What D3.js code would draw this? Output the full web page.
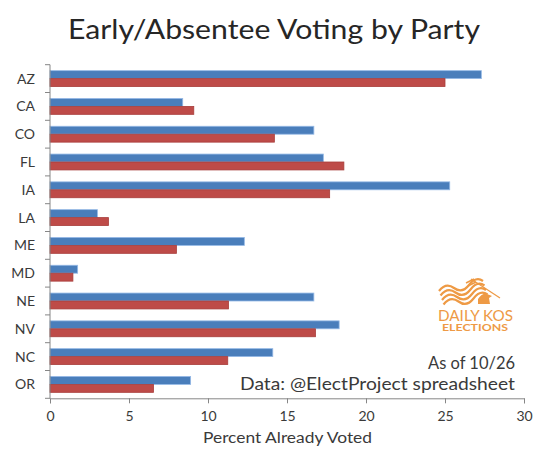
<!DOCTYPE html>
<html><head><meta charset="utf-8">
<script src="https://cdn.jsdelivr.net/npm/d3@7"></script>
<style>body{margin:0;background:#fff}svg{display:block}text{font-family:Lato,"Open Sans",sans-serif}</style>
</head><body>
<script>
const states = ["AZ","CA","CO","FL","IA","LA","ME","MD","NE","NV","NC","OR"];
const demValues = [27.3,8.4,16.7,17.3,25.3,3.0,12.3,1.75,16.7,18.3,14.1,8.9];
const repValues = [25.0,9.1,14.2,18.6,17.7,3.7,8.0,1.45,11.3,16.8,11.25,6.55];
const series = ["dem","rep"];
const xTicks = [0,5,10,15,20,25,30];
const title = "Early/Absentee Voting by Party";
const xTitle = "Percent Already Voted";
const notes = ["As of 10/26","Data:  @ElectProject spreadsheet"];

(function(){
const W=550,H=467;
const svg=d3.select("body").append("svg").attr("width",W).attr("height",H);
const pl=50,pr=524,pt=64.7,pb=398.3;
const x=d3.scaleLinear().domain([0,30]).range([pl,pr]);
const y=d3.scaleBand().domain(states).range([pt,pb]).padding(0);
const ys=d3.scaleBand().domain(series).range([0,y.bandwidth()]).paddingInner(0).paddingOuter(0.75);
const colors={dem:"#4a7ebb",rep:"#be4b48"};
const strokes={dem:"#95b9e6",rep:"#a83e3b"};
const textCol="#3a3a3a";

svg.append("text").attr("x",68).attr("y",38.5)
  .attr("font-size",27).attr("fill","#262626")
  .attr("textLength",412).attr("lengthAdjust","spacingAndGlyphs").text(title);

const data=states.map((s,i)=>({s,dem:demValues[i],rep:repValues[i]}));
const g=svg.append("g");
data.forEach(d=>{
  series.forEach(k=>{
    g.append("rect").attr("x",x(0)).attr("y",y(d.s)+ys(k))
     .attr("width",x(d[k])-x(0)).attr("height",ys.bandwidth())
     .attr("fill",colors[k]).attr("stroke",strokes[k]).attr("stroke-width",0.8);
  });
});

const xa=svg.append("g").attr("transform",`translate(0,${pb})`)
  .call(d3.axisBottom(x).tickValues(xTicks).tickSize(5).tickPadding(8));
xa.select(".domain").attr("stroke","#868686");
xa.selectAll(".tick line").attr("stroke","#868686");
xa.selectAll("text").attr("font-size",14).attr("fill",textCol).attr("font-family","Lato,sans-serif");
const ya=svg.append("g").attr("transform",`translate(${pl},0)`);
ya.append("line").attr("x1",0).attr("x2",0).attr("y1",pt).attr("y2",pb).attr("stroke","#868686");
states.concat(["_end"]).forEach((s,i)=>{
  const yy = i<states.length ? y(s) : pb;
  ya.append("line").attr("x1",-5).attr("x2",0).attr("y1",yy).attr("y2",yy).attr("stroke","#868686");
});
states.forEach(s=>{
  ya.append("text").attr("x",-15).attr("y",y(s)+y.bandwidth()/2).attr("dy","0.36em")
    .attr("text-anchor","end").attr("font-size",14).attr("fill",textCol).text(s);
});
svg.append("text").attr("x",203).attr("y",443)
  .attr("font-size",14.5).attr("fill",textCol)
  .attr("textLength",169).attr("lengthAdjust","spacingAndGlyphs").text(xTitle);

svg.append("text").attr("x",428).attr("y",369)
  .attr("font-size",17.5).attr("fill",textCol)
  .attr("textLength",87).attr("lengthAdjust","spacingAndGlyphs").text(notes[0]);
svg.append("text").attr("x",240).attr("y",390)
  .attr("font-size",17.5).attr("fill",textCol)
  .attr("textLength",275).attr("lengthAdjust","spacingAndGlyphs").text(notes[1]);

// logo
const orange="#ee9a45";
const lg=svg.append("g").attr("fill","none").attr("stroke",orange).attr("stroke-width",2.2);
[0,4.5,9,13.5].forEach((o,i)=>{
  lg.append("path").attr("d",`M${439+i*1.5},${291+o} q7,-9 15,-3 t15,-3 t14,-4`);
});
lg.append("line").attr("x1",471).attr("y1",279).attr("x2",500).attr("y2",298).attr("stroke-width",1.2);
lg.append("path").attr("d","M466,283 l8,-4 m-6,7 l8,-4").attr("stroke-width",1.5);
svg.append("path").attr("d","M478,299 q4,-6 9,-5 l5,2 l-3,2 l1,6 l-12,0 z").attr("fill",orange);
svg.append("text").attr("x",438).attr("y",320.5).attr("font-size",13)
  .attr("font-family","'DejaVu Sans Condensed','DejaVu Sans',sans-serif")
  .attr("transform","translate(0,-64) scale(1,1.2)")
  .attr("textLength",75).attr("lengthAdjust","spacingAndGlyphs").attr("fill",orange).text("DAILY KOS");
svg.append("text").attr("x",442).attr("y",330.5).attr("font-size",8.5).attr("font-weight","bold")
  .attr("textLength",66).attr("lengthAdjust","spacingAndGlyphs").attr("fill",orange).text("ELECTIONS");
})();
</script>
</body></html>
